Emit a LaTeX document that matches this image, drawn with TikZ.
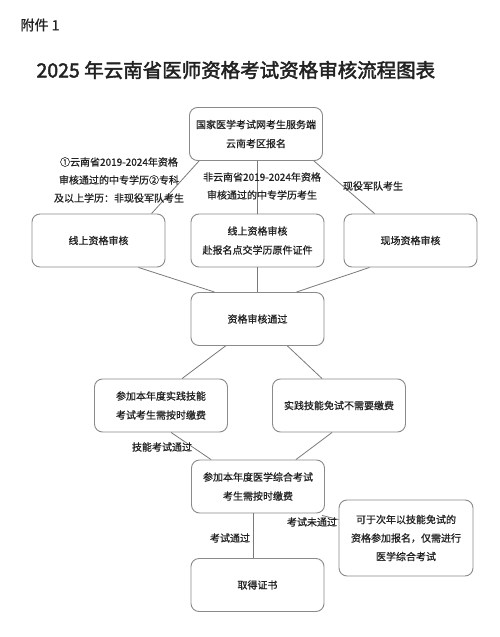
\documentclass[tikz,border=0pt]{standalone}
\usepackage{fontspec}
\usetikzlibrary{calc}
\newfontfamily\cjk[FakeBold=0.8]{Noto Sans CJK SC}
\newfontfamily\cjkb[FakeBold=2.2]{Noto Sans CJK SC}
\definecolor{txt}{HTML}{222222}
\definecolor{ln}{HTML}{7A7A7A}
\definecolor{bd}{HTML}{8A8A8A}
\begin{document}
\begin{tikzpicture}[x=1pt,y=-1pt,
  box/.style={draw=bd, line width=0.9pt, rounded corners=8pt, minimum width=133pt, minimum height=53pt,
     align=center, inner sep=2pt, text=txt, font=\cjk\fontsize{10}{19}\selectfont},
  lbl/.style={align=center, inner sep=0pt, text=txt, font=\cjk\fontsize{10}{18}\selectfont},
  con/.style={draw=ln, line width=0.8pt}]
\useasboundingbox (0,0) rectangle (500,637);
\fill[white] (0,0) rectangle (500,637);
\node[anchor=west, text=txt, font=\cjk\fontsize{14}{16}\selectfont] (fj) at (17,25) {附件 1};
\node[anchor=west, text=txt, font=\cjkb\fontsize{19.5}{22}\selectfont] (title) at (33,70) {2025 年云南省医师资格考试资格审核流程图表};

\node[box] (b1) at (256,134) {国家医学考试网考生服务端\\云南考区报名};
\node[box] (b2l) at (98.5,240.5) {线上资格审核};
\node[box] (b2m) at (257.5,240.5) {线上资格审核\\赴报名点交学历原件证件};
\node[box] (b2r) at (410.5,240.5) {现场资格审核};
\node[box] (b3) at (257.5,319) {资格审核通过};
\node[box] (b4l) at (161,405.5) {参加本年度实践技能\\考试考生需按时缴费};
\node[box] (b4r) at (339,405.5) {实践技能免试不需要缴费};
\node[box] (b5) at (258,486.5) {参加本年度医学综合考试\\考生需按时缴费};
\node[box] (b6) at (257.5,585) {取得证书};
\node[box, minimum height=76pt, minimum width=134pt, font=\cjk\fontsize{10}{18.5}\selectfont] (b7) at (406,538) {可于次年以技能免试的\\资格参加报名，仅需进行\\医学综合考试};

\draw[con] ([xshift=10pt]b1.south west) -- ([xshift=120pt]b2l.north west);
\draw[con] (b2m.north |- b1.south) -- (b2m.north);
\draw[con] ([xshift=-9pt]b1.south east) -- ([xshift=31pt]b2r.north west);
\draw[con] ([xshift=-27pt]b2l.south east) -- ([xshift=24pt]b3.north west);
\draw[con] (b2m.south) -- (b3.north);
\draw[con] ([xshift=26pt]b2r.south west) -- ([xshift=-28pt]b3.north east);
\draw[con] ([xshift=35pt]b3.south west) -- ([xshift=88pt]b4l.north west);
\draw[con] ([xshift=-37pt]b3.south east) -- ([xshift=50pt]b4r.north west);
\draw[con] ([xshift=77pt]b4l.south west) -- ([xshift=20pt]b5.north west);
\draw[con] ([xshift=60pt]b4r.south west) -- ([xshift=-29pt]b5.north east);
\draw[con] ([xshift=-5pt]b5.south) -- ([xshift=-4.5pt]b6.north);
\draw[con] ([xshift=-3pt,yshift=-2pt]b5.south east) -- ([yshift=-20pt]b7.north west);

\node[lbl] (l1) at (119,180) {①云南省2019-2024年资格\\审核通过的中专学历②专科\\及以上学历：非现役军队考生};
\node[lbl] (l2) at (262,186) {非云南省2019-2024年资格\\审核通过的中专学历考生};
\node[lbl] (l3) at (373,186) {现役军队考生};
\node[lbl] (l4) at (162,447) {技能考试通过};
\node[lbl] (l5) at (230,538) {考试通过};
\node[lbl] (l6) at (312,522) {考试未通过};
\end{tikzpicture}
\end{document}
